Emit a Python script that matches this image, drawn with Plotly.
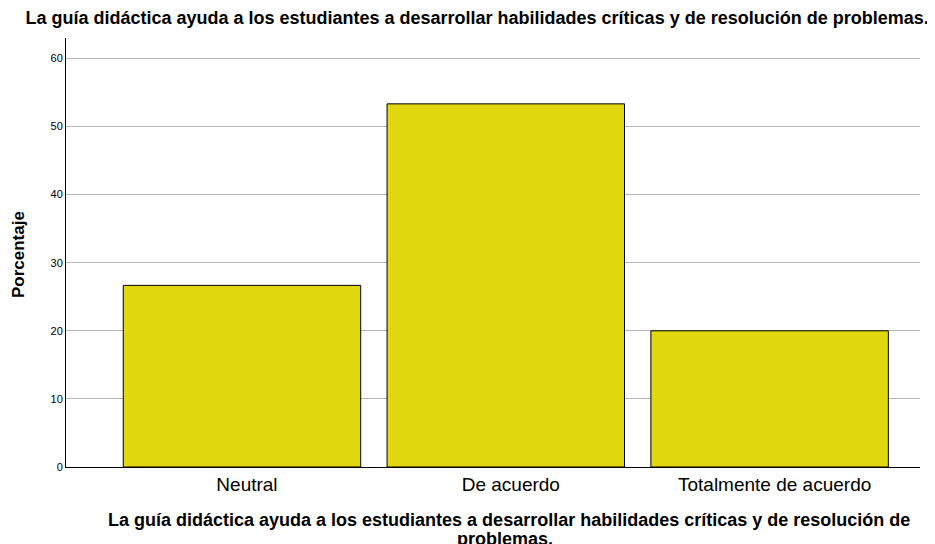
import plotly.graph_objects as go

categorias = ["Neutral", "De acuerdo", "Totalmente de acuerdo"]
porcentajes = [26.67, 53.33, 20.0]
ticks_y = [0, 10, 20, 30, 40, 50, 60]

titulo = "La guía didáctica ayuda a los estudiantes a desarrollar habilidades críticas y de resolución de problemas."
titulo_x_1 = "La guía didáctica ayuda a los estudiantes a desarrollar habilidades críticas y de resolución de"
titulo_x_2 = "problemas."

fig = go.Figure(go.Bar(
    x=categorias,
    y=porcentajes,
    width=0.9,
    marker=dict(color="#E2D80F", line=dict(color="#000000", width=1)),
))

# la pagina tiene 8px de margen en el body, se descuenta aqui
fig.update_layout(
    width=927, height=536,
    margin=dict(l=58, r=15, t=30, b=77),
    paper_bgcolor="white", plot_bgcolor="white",
    font=dict(family="Liberation Sans, Arial, sans-serif", color="#000000"),
    showlegend=False,
    title=dict(text="<b>" + titulo + "</b>", x=0.506, xanchor="center", y=0.981,
               yanchor="middle", font=dict(size=18)),
    xaxis=dict(range=[-0.667, 2.57], showline=True, linecolor="#000000", linewidth=1,
               showgrid=False, ticks="", tickfont=dict(size=19), ticklabelshift=5,
               automargin=False),
    yaxis=dict(range=[0, 63], tickvals=ticks_y, showline=True, linecolor="#000000",
               linewidth=1, showgrid=True, gridcolor="#b4b4b4", gridwidth=1,
               zeroline=False, ticks="", tickfont=dict(size=11), automargin=False),
)

# titulo del eje y
fig.add_annotation(text="<b>Porcentaje</b>", xref="paper", yref="paper",
                   x=-0.0562, y=0.494, xanchor="center", yanchor="middle",
                   textangle=-90, showarrow=False, font=dict(size=17))

# titulo del eje x en dos lineas
fig.add_annotation(text="<b>" + titulo_x_1 + "</b>", xref="paper", yref="paper",
                   x=0.519, y=-0.1235, xanchor="center", yanchor="middle",
                   showarrow=False, font=dict(size=18))
fig.add_annotation(text="<b>" + titulo_x_2 + "</b>", xref="paper", yref="paper",
                   x=0.514, y=-0.168, xanchor="center", yanchor="middle",
                   showarrow=False, font=dict(size=18))

fig.write_html("out.html")
